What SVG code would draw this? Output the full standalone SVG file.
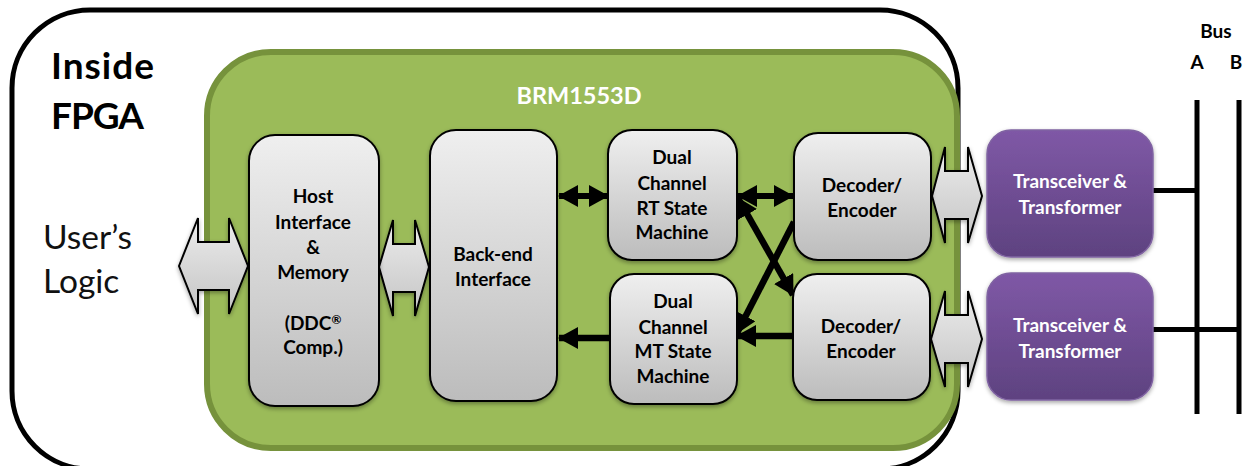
<svg xmlns="http://www.w3.org/2000/svg" width="1244" height="466" viewBox="0 0 1244 466">
<style>
text{font-family:"Lato","Carlito","Open Sans","Liberation Sans",sans-serif;font-weight:700;font-size:19px;fill:#000;text-anchor:middle}
.big{font-size:37px;text-anchor:start}
.reg{font-size:33.5px;font-weight:400;text-anchor:start;fill:#111}
.w{fill:#fff}
.t{font-size:23.500px}
.sup{font-size:12px}
.box{fill:url(#grey);stroke:#000;stroke-width:2;filter:url(#sh)}
.pur{fill:url(#pur);stroke:#8064a2;stroke-width:1.5;filter:url(#sh)}
.blk{fill:url(#grey2);stroke:#000;stroke-width:2;stroke-linejoin:miter;filter:url(#sh)}
.ln{stroke:#000;stroke-width:6;fill:none}
.x{stroke-width:6.500}
.bus{stroke:#000;stroke-width:5;fill:none}
</style>
<defs>
<linearGradient id="grey" x1="0" y1="0" x2="0" y2="1"><stop offset="0" stop-color="#efefef"/><stop offset="1" stop-color="#bcbcbc"/></linearGradient>
<linearGradient id="grey2" x1="0" y1="0" x2="0" y2="1"><stop offset="0" stop-color="#ececec"/><stop offset="1" stop-color="#c4c4c4"/></linearGradient>
<linearGradient id="pur" x1="0" y1="0" x2="0" y2="1"><stop offset="0" stop-color="#7f58a6"/><stop offset="1" stop-color="#5e4280"/></linearGradient>
<filter id="sh" x="-15%" y="-15%" width="130%" height="130%"><feDropShadow dx="0" dy="2" stdDeviation="2" flood-color="#000" flood-opacity=".35"/></filter>
<marker id="ah" viewBox="0 0 20 20" refX="19" refY="10" markerWidth="20" markerHeight="22" markerUnits="userSpaceOnUse" orient="auto-start-reverse" preserveAspectRatio="none"><path d="M0 0L20 10L0 20Z" fill="#000"/></marker>
</defs>

<g id="fpga"><rect x="12" y="10" width="946" height="459" rx="78" fill="#fff" stroke="#000" stroke-width="5"/>
<text class="big" x="51" y="79" textLength="103">Inside</text><text class="big" x="51" y="129" textLength="93">FPGA</text></g>
<g id="users-logic"><text class="reg" x="43" y="249">User’s</text><text class="reg" x="43" y="293">Logic</text></g>
<g id="brm1553d"><rect x="207" y="52" width="750" height="396" rx="64" fill="#9bbb59" stroke="#76923c" stroke-width="6"/>
<text class="w t" x="579" y="104">BRM1553D</text></g>

<g id="connectors">
<path class="bus" d="M1197 100V414M1239 100V414M1153 190.500H1197M1153 329.500H1239"/>
<path class="ln" marker-start="url(#ah)" marker-end="url(#ah)" d="M559 196H608"/>
<path class="ln" marker-start="url(#ah)" marker-end="url(#ah)" d="M738 196H793"/>
<path class="ln x" marker-start="url(#ah)" marker-end="url(#ah)" d="M738 198L793 295"/>
<path class="ln x" marker-end="url(#ah)" d="M794 222L737 333"/>
<path class="ln x" marker-end="url(#ah)" d="M792 336H737"/>
<path class="ln x" marker-end="url(#ah)" d="M610 338H559"/>
<path class="blk" d="M179 266L198 218V242H229V218L248 266L229 314V290H198V314Z"/>
<path class="blk" d="M379 267L393 220V244H415V220L429 267L415 316V292H393V316Z"/>
<path class="blk" d="M932 196L945 147V171H968V147L982 196L968 243V219H945V243Z"/>
<path class="blk" d="M931 339L945 291V315H968V291L982 339L968 387V363H945V387Z"/>
</g>

<g id="host"><rect class="box" x="249" y="135" width="130" height="271" rx="26"/>
<text x="313" y="203">Host</text><text x="313" y="229">Interface</text><text x="313" y="254">&amp;</text><text x="313" y="279">Memory</text><text x="313" y="330">(DDC<tspan class="sup" dy="-6">®</tspan></text><text x="313" y="354">Comp.)</text></g>
<g id="backend"><rect class="box" x="430" y="130" width="127" height="271" rx="26"/>
<text x="493" y="261">Back-end</text><text x="493" y="286">Interface</text></g>
<g id="rt"><rect class="box" x="608" y="130" width="129" height="130" rx="24"/>
<text x="672" y="164">Dual</text><text x="672" y="190">Channel</text><text x="672" y="215">RT State</text><text x="672" y="239">Machine</text></g>
<g id="mt"><rect class="box" x="610" y="274" width="127" height="130" rx="24"/>
<text x="673" y="308">Dual</text><text x="673" y="334">Channel</text><text x="673" y="358">MT State</text><text x="673" y="383">Machine</text></g>
<g id="dec1"><rect class="box" x="794" y="133" width="137" height="127" rx="24"/>
<text x="862" y="192">Decoder/</text><text x="862" y="217">Encoder</text></g>
<g id="dec2"><rect class="box" x="793" y="274" width="137" height="126" rx="24"/>
<text x="861" y="333">Decoder/</text><text x="861" y="358">Encoder</text></g>
<g id="tx1"><rect class="pur" x="987" y="130" width="166" height="127" rx="24"/>
<text class="w" x="1070" y="188">Transceiver &amp;</text><text class="w" x="1070" y="214">Transformer</text></g>
<g id="tx2"><rect class="pur" x="987" y="273" width="166" height="127" rx="24"/>
<text class="w" x="1070" y="332">Transceiver &amp;</text><text class="w" x="1070" y="358">Transformer</text></g>
<g id="bus-labels"><text x="1216" y="38">Bus</text><text x="1197" y="69">A</text><text x="1236" y="69">B</text></g>
</svg>
